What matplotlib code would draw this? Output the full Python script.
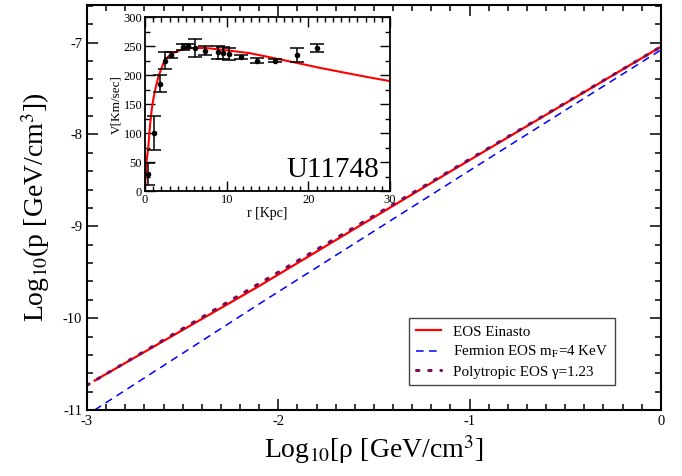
import numpy as np
import matplotlib
matplotlib.use("Agg")
import matplotlib.pyplot as plt
from matplotlib.ticker import MultipleLocator

plt.rcParams["font.family"] = ["Liberation Serif", "DejaVu Serif"]
plt.rcParams["mathtext.fontset"] = "stix"
plt.rcParams["axes.unicode_minus"] = False

# main panel: log10 rho vs log10 p
rho_einasto = [-2.96, -2.10, -1.09, 0.0]
p_einasto = [-10.68, -9.65, -8.39, -7.045]
rho_fermion = [-2.96, -2.096, -0.998, 0.0]
p_fermion = [-11.0, -9.84, -8.39, -7.08]
rho_poly = [-3.0, -2.0, -1.0, 0.0]
p_poly = [-10.73, -9.50, -8.27, -7.045]

# inset: rotation curve of U11748
r_obs = [0.33, 1.06, 1.8, 2.47, 3.16, 4.6, 5.25, 6.1, 7.35, 8.9, 9.55, 10.3, 11.7, 13.76, 15.9, 18.6, 21.0]
v_obs = [30, 100, 185, 225, 234, 248, 250, 247, 242, 239, 238, 236, 231, 225, 225, 234, 247]
v_err = [19, 29, 15, 14, 5, 5, 4, 16, 8, 11, 10, 10, 4, 4, 3, 12, 7]
r_fit = [0.0, 0.2, 0.4, 0.6, 0.82, 1.0, 1.3, 1.63, 2.0, 2.24, 2.7, 3.27, 4.3, 5.3, 6.3, 7.55,
         9.0, 10.4, 11.6, 12.85, 15.7, 18.6, 21.4, 24.3, 27.1, 30.0]
v_fit = [5, 53, 75, 111, 140, 157, 178, 197, 211, 220, 230, 237, 243, 246, 247, 246.5,
         244.5, 242, 240, 237.8, 229.5, 221, 212.5, 204.5, 197, 189.5]

fig = plt.figure(figsize=(6.82, 4.76), dpi=100)
ax = fig.add_axes([0.1276, 0.1387, 0.8414, 0.8508])

ax.plot(rho_einasto, p_einasto, color="red", lw=1.6, label="EOS Einasto")
ax.plot(rho_fermion, p_fermion, color="blue", lw=1.1, ls=(0, (5, 3.5)),
        label=r"Fermion EOS m$_{\mathrm{F}}$=4 KeV")
ax.plot(rho_poly, p_poly, color="#7a0a5a", lw=2.2, ls=(0, (0.8, 3.2)),
        dash_capstyle="round", label="Polytropic EOS γ=1.23")

ax.set_xlim(-3, 0)
ax.set_ylim(-11, -6.59)
ax.xaxis.set_major_locator(MultipleLocator(1))
ax.xaxis.set_minor_locator(MultipleLocator(0.1))
ax.yaxis.set_major_locator(MultipleLocator(1))
ax.yaxis.set_minor_locator(MultipleLocator(0.2))
ax.tick_params(which="both", direction="in", top=True, right=True, labelsize=10.5, width=1.1)
ax.tick_params(which="major", length=8)
ax.tick_params(which="minor", length=4)
for s in ax.spines.values():
    s.set_linewidth(1.5)
ax.set_xlabel(r"Log$_{10}$[ρ [GeV/cm$^3$]", fontsize=20, labelpad=4)
ax.set_ylabel(r"Log$_{10}$(p [GeV/cm$^3$])", fontsize=20, labelpad=8)

leg = ax.legend(loc="lower left", bbox_to_anchor=(0.548, 0.042), fontsize=10.8,
                fancybox=False, edgecolor="#444444", handlelength=1.7,
                borderpad=0.45, labelspacing=0.35, framealpha=1)
leg.get_frame().set_linewidth(1.0)

# inset
ins = fig.add_axes([0.2126, 0.5987, 0.3594, 0.3653])
ins.plot(r_fit, v_fit, color="red", lw=1.5)
ins.errorbar(r_obs, v_obs, yerr=v_err, fmt="o", color="black", ms=3,
             capsize=5, elinewidth=1.1, capthick=1.1)
ins.set_xlim(0, 30)
ins.set_ylim(0, 300)
ins.xaxis.set_major_locator(MultipleLocator(10))
ins.xaxis.set_minor_locator(MultipleLocator(1))
ins.yaxis.set_major_locator(MultipleLocator(50))
ins.yaxis.set_minor_locator(MultipleLocator(25))
ins.tick_params(which="both", direction="in", top=True, right=True, labelsize=9, pad=2, width=1)
ins.tick_params(which="major", length=7)
ins.tick_params(which="minor", length=3.5)
for s in ins.spines.values():
    s.set_linewidth(1.3)
ins.set_xlabel("r [Kpc]", fontsize=10, labelpad=1)
ins.set_ylabel("V[Km/sec]", fontsize=9.5, labelpad=1)
ins.text(0.955, 0.045, "U11748", transform=ins.transAxes, ha="right", va="bottom", fontsize=21)

fig.savefig("out.png", dpi=100)
